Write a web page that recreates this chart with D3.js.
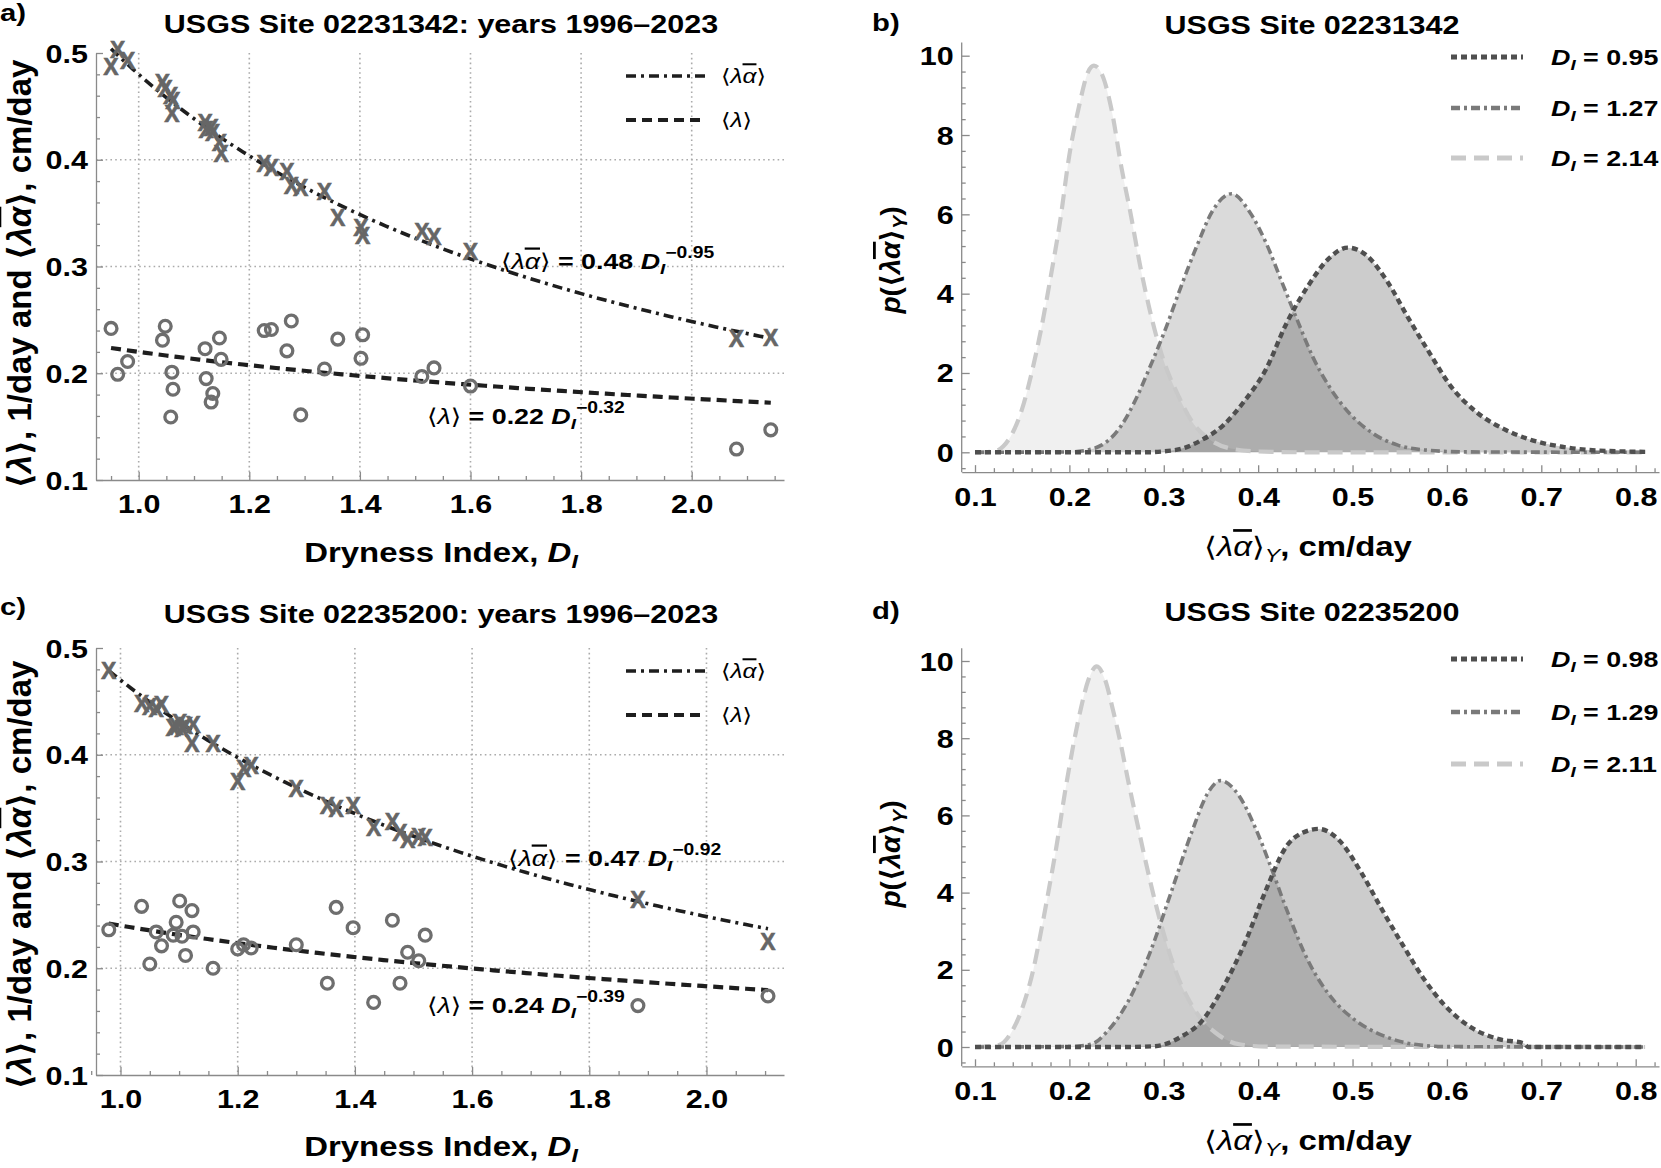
<!DOCTYPE html>
<html><head><meta charset="utf-8">
<script src="https://cdn.jsdelivr.net/npm/d3@7"></script>
<style>
body{margin:0;background:#fff}
svg{display:block}
text{font-family:"Liberation Sans",Arial,"DejaVu Sans",sans-serif;font-weight:bold;fill:#000}
</style></head>
<body><svg id="chart" width="1661" height="1168"></svg>
<script>
// ---------------- DATA ----------------
// Panel a: USGS 02231342 (dryness index, <λα>, <λ>)
const diA        = [0.950,0.962,0.980,1.043,1.048,1.058,1.060,1.062,1.120,1.122,1.131,1.134,1.146,1.149,1.227,1.240,1.268,1.276,1.293,1.336,1.360,1.402,1.405,1.512,1.534,1.600,2.081,2.143];
const lamAlphaA  = [0.487,0.503,0.493,0.472,0.467,0.460,0.443,0.455,0.435,0.428,0.430,0.425,0.416,0.406,0.396,0.393,0.389,0.376,0.374,0.370,0.346,0.336,0.329,0.333,0.328,0.314,0.232,0.233];
const lamA       = [0.242,0.199,0.211,0.231,0.244,0.159,0.201,0.185,0.223,0.195,0.173,0.181,0.233,0.213,0.240,0.241,0.221,0.249,0.161,0.204,0.232,0.214,0.236,0.197,0.205,0.188,0.129,0.147];
const fitLamAlphaA = [0.48,-0.95];
const fitLamA      = [0.22,-0.32];
// Panel c: USGS 02235200
const diC        = [0.980,1.036,1.050,1.061,1.070,1.090,1.095,1.101,1.105,1.111,1.122,1.124,1.158,1.200,1.210,1.223,1.300,1.353,1.368,1.397,1.432,1.464,1.477,1.490,1.509,1.520,1.883,2.105];
const lamAlphaC  = [0.479,0.448,0.445,0.443,0.447,0.425,0.426,0.430,0.424,0.427,0.410,0.428,0.410,0.375,0.387,0.390,0.368,0.352,0.349,0.352,0.332,0.337,0.327,0.320,0.323,0.322,0.264,0.225];
const lamC       = [0.236,0.258,0.204,0.234,0.221,0.231,0.243,0.263,0.230,0.212,0.254,0.234,0.200,0.218,0.222,0.219,0.222,0.186,0.257,0.238,0.168,0.245,0.186,0.215,0.207,0.231,0.165,0.174];
const fitLamAlphaC = [0.47,-0.92];
const fitLamC      = [0.24,-0.39];
const scatterXTicks = [1.0,1.2,1.4,1.6,1.8,2.0];
const scatterYTicks = [0.1,0.2,0.3,0.4,0.5];

// Panel b PDFs
const pdfB1x = [0.10,0.28,0.313,0.341,0.363,0.386,0.408,0.43,0.453,0.475,0.495,0.514,0.537,0.559,0.582,0.604,0.632,0.66,0.688,0.722,0.75,0.789,0.81];
const pdfB1y = [0,0,0.06,0.32,0.68,1.31,2.08,3.25,4.2,4.89,5.16,4.98,4.3,3.39,2.49,1.67,1.0,0.59,0.32,0.14,0.06,0.02,0.01];
const pdfB2x = [0.10,0.20,0.22,0.234,0.251,0.268,0.285,0.302,0.318,0.335,0.352,0.372,0.391,0.408,0.425,0.442,0.458,0.475,0.498,0.52,0.548,0.576,0.62,0.81];
const pdfB2y = [0,0.01,0.06,0.18,0.54,1.22,2.13,3.12,4.16,5.2,6.1,6.52,6.06,5.3,4.3,3.3,2.4,1.67,0.95,0.5,0.18,0.06,0.01,0];
const pdfB3x = [0.10,0.12,0.13,0.14,0.15,0.16,0.17,0.18,0.19,0.20,0.21,0.22,0.226,0.235,0.245,0.255,0.265,0.275,0.285,0.30,0.315,0.33,0.35,0.37,0.40,0.45,0.81];
const pdfB3y = [0,0.02,0.15,0.5,1.1,2.0,3.1,4.4,5.8,7.5,8.7,9.6,9.75,9.5,8.6,7.2,6.0,4.7,3.6,2.3,1.45,0.77,0.3,0.1,0.02,0,0];
const legendB = ["0.95","1.27","2.14"];
// Panel d PDFs
const pdfD1x = [0.10,0.26,0.29,0.318,0.341,0.363,0.386,0.408,0.43,0.447,0.464,0.486,0.509,0.531,0.554,0.576,0.598,0.626,0.654,0.682,0.686,0.81];
const pdfD1y = [0,0,0.02,0.26,0.69,1.55,2.7,4.05,5.2,5.55,5.65,5.35,4.53,3.57,2.61,1.75,1.07,0.5,0.21,0.09,0,0];
const pdfD2x = [0.10,0.20,0.223,0.24,0.262,0.285,0.307,0.33,0.346,0.36,0.38,0.397,0.414,0.43,0.453,0.475,0.503,0.531,0.565,0.60,0.81];
const pdfD2y = [0,0.01,0.07,0.4,1.17,2.42,3.95,5.59,6.55,6.9,6.5,5.68,4.63,3.57,2.23,1.36,0.69,0.31,0.07,0.01,0];
const pdfD3x = [0.10,0.125,0.139,0.15,0.162,0.17,0.178,0.187,0.195,0.204,0.212,0.22,0.229,0.238,0.246,0.254,0.262,0.271,0.279,0.296,0.313,0.335,0.358,0.38,0.41,0.81];
const pdfD3y = [0,0.05,0.4,1.0,2.03,3.0,4.05,5.3,6.55,7.8,8.75,9.5,9.86,9.5,8.75,7.9,6.93,5.9,5.0,3.28,1.94,0.88,0.31,0.07,0.01,0];
const legendD = ["0.98","1.29","2.11"];
const pdfXTicks = [0.1,0.2,0.3,0.4,0.5,0.6,0.7,0.8];
const pdfYTicks = [0,2,4,6,8,10];

// ---------------- HELPERS ----------------
const svg = d3.select("#chart");
const AXC = "#8a8a8a";
const SX = 1.22;   // horizontal widening of the figure's lettering

function rich(g, x, y, parts, o){
  const t = g.append("text").attr("x",0).attr("y",0).attr("font-size",o.size)
    .attr("text-anchor",o.anchor||"start");
  if(o.rotate) t.attr("transform",`translate(${x},${y}) rotate(-90)`);
  else t.attr("transform",`translate(${x},${y}) scale(${o.sx||SX},1)`);
  if(typeof parts==="string") parts=[{t:parts}];
  let shift = 0;
  parts.forEach(p=>{
    const ts = t.append("tspan").text(p.t);
    let target = 0;
    if(p.sub) target = o.size*0.24;
    if(p.sup) target = -o.size*0.48;
    const dy = target-shift; if(dy) ts.attr("dy",dy); shift = target;
    if(p.i) ts.attr("font-style","italic");
    if(p.n) ts.attr("font-weight","normal");
    if(p.s) ts.attr("font-size",p.s*o.size);
    if(p.o) ts.style("text-decoration","overline");
  });
  return t;
}
const LA = (n)=>[{t:"⟨",n:n},{t:"λ",i:1,n:n},{t:"α",i:1,o:1,n:n},{t:"⟩",n:n}];

function styleAxis(sel, fs){
  sel.select(".domain").attr("stroke",AXC).attr("stroke-width",1.3);
  sel.selectAll(".tick line").attr("stroke",AXC).attr("stroke-width",1.3);
  sel.selectAll(".tick text").attr("font-size",fs).attr("fill","#000")
     .attr("font-family",'"Liberation Sans",Arial,sans-serif').attr("font-weight","bold")
     .each(function(){
        const s=d3.select(this); const x=+s.attr("x")||0, y=+s.attr("y")||0;
        s.attr("x",0).attr("y",0).attr("transform",`translate(${x},${y}) scale(${SX},1)`);
     });
}

function drawAxes(g, x, y, xt, yt, xMinor, yMinor, xFmt, yFmt, xAxisY, yAxisX){
  const ax = g.append("g").attr("transform",`translate(0,${xAxisY})`)
    .call(d3.axisBottom(x).tickValues(xMinor).tickSizeInner(-4).tickSizeOuter(0).tickFormat(""));
  styleAxis(ax,25);
  const ax2 = g.append("g").attr("transform",`translate(0,${xAxisY})`)
    .call(d3.axisBottom(x).tickValues(xt).tickSizeInner(-8).tickSizeOuter(0).tickPadding(15).tickFormat(xFmt));
  styleAxis(ax2,25); ax2.select(".domain").remove();
  const ay = g.append("g").attr("transform",`translate(${yAxisX},0)`)
    .call(d3.axisLeft(y).tickValues(yMinor).tickSizeInner(-4).tickSizeOuter(0).tickFormat(""));
  styleAxis(ay,25);
  const ay2 = g.append("g").attr("transform",`translate(${yAxisX},0)`)
    .call(d3.axisLeft(y).tickValues(yt).tickSizeInner(-7).tickSizeOuter(0).tickPadding(8).tickFormat(yFmt));
  styleAxis(ay2,25); ay2.select(".domain").remove();
  ay2.selectAll(".tick text").attr("dy","0.36em");
}

function scatterPanel(c){
  const g = svg.append("g");
  const x = d3.scaleLinear().domain(c.xDom).range([96,784]);
  const y = d3.scaleLinear().domain([0.1,0.5]).range([c.yB,c.yT]);
  g.selectAll(".vg").data(scatterXTicks).join("line")
    .attr("x1",d=>x(d)).attr("x2",d=>x(d)).attr("y1",y(0.5)).attr("y2",y(0.1))
    .attr("stroke","#ababab").attr("stroke-width",1.6).attr("stroke-dasharray","1.6,3.2");
  g.selectAll(".hg").data(scatterYTicks.filter(v=>v>0.1&&v<0.5)).join("line")
    .attr("x1",x.range()[0]).attr("x2",x.range()[1]).attr("y1",d=>y(d)).attr("y2",d=>y(d))
    .attr("stroke","#ababab").attr("stroke-width",1.6).attr("stroke-dasharray","1.6,3.2");
  const minorX = d3.range(0,26).map(i=>+(0.95+i*0.05).toFixed(2)).filter(v=>v<=c.xDom[1]&&!scatterXTicks.some(t=>Math.abs(t-v)<1e-6));
  const minorY = d3.range(0,21).map(i=>+(0.1+i*0.02).toFixed(2)).filter(v=>!scatterYTicks.some(t=>Math.abs(t-v)<1e-6));
  drawAxes(g,x,y,scatterXTicks,scatterYTicks,minorX,minorY,d3.format(".1f"),d3.format(".1f"),c.yB,96);
  // fitted power laws (coefficients as labelled on the chart)
  const dmin = d3.min(c.di), dmax = d3.max(c.di);
  const samp = d3.range(0,61).map(i=>dmin+(dmax-dmin)*i/60);
  const line = d3.line().x(d=>x(d[0])).y(d=>y(d[1]));
  g.append("path").attr("d",line(samp.map(d=>[d,c.fitLA[0]*Math.pow(d,c.fitLA[1])])))
    .attr("fill","none").attr("stroke","#1e1e1e").attr("stroke-width",3.6).attr("stroke-dasharray","10,5,3,5");
  g.append("path").attr("d",line(samp.map(d=>[d,c.fitL[0]*Math.pow(d,c.fitL[1])])))
    .attr("fill","none").attr("stroke","#1e1e1e").attr("stroke-width",4.2).attr("stroke-dasharray","10,6");
  // markers
  g.selectAll(".xm").data(c.di.map((d,i)=>[d,c.la[i]])).join("text")
    .attr("x",d=>x(d[0])).attr("y",d=>y(d[1])).attr("dy","0.36em").attr("text-anchor","middle")
    .attr("font-size",23).style("fill","#666").attr("stroke","#666").attr("stroke-width",0.6).text("X");
  g.selectAll(".om").data(c.di.map((d,i)=>[d,c.l[i]])).join("circle")
    .attr("cx",d=>x(d[0])).attr("cy",d=>y(d[1])).attr("r",5.9)
    .attr("fill","none").attr("stroke","#6e6e6e").attr("stroke-width",3.3);
  // legend
  const oy = c.oy;
  g.append("line").attr("x1",626).attr("x2",706).attr("y1",76+oy).attr("y2",76+oy)
    .attr("stroke","#1e1e1e").attr("stroke-width",3.6).attr("stroke-dasharray","10,5,3,5");
  g.append("line").attr("x1",626).attr("x2",706).attr("y1",120+oy).attr("y2",120+oy)
    .attr("stroke","#1e1e1e").attr("stroke-width",4.2).attr("stroke-dasharray","10,6");
  rich(g,721,83+oy,LA(1),{size:20});
  rich(g,721,127+oy,[{t:"⟨",n:1},{t:"λ",i:1,n:1},{t:"⟩",n:1}],{size:20});
  // annotations
  rich(g,c.ann1[0],c.ann1[1],LA(1).concat([{t:" = "+c.fitLA[0].toFixed(2)+" "},{t:"D",i:1},{t:"I",i:1,sub:1,s:0.7},{t:"−"+Math.abs(c.fitLA[1]).toFixed(2),sup:1,s:0.72}]),{size:22});
  rich(g,c.ann2[0],c.ann2[1],[{t:"⟨",n:1},{t:"λ",i:1,n:1},{t:"⟩",n:1},{t:" = "+c.fitL[0].toFixed(2)+" "},{t:"D",i:1},{t:"I",i:1,sub:1,s:0.7},{t:"−"+Math.abs(c.fitL[1]).toFixed(2),sup:1,s:0.72}],{size:22});
  // titles / labels
  rich(svg,0,c.letY,c.letter,{size:24});
  rich(svg,441,c.titleY,c.title,{size:25,anchor:"middle"});
  rich(svg,441,c.xlabY,[{t:"Dryness Index, "},{t:"D",i:1},{t:"I",i:1,sub:1,s:0.7}],{size:27,anchor:"middle"});
  rich(svg,31,c.ylabC,[{t:"⟨"},{t:"λ",i:1},{t:"⟩, 1/day and ⟨"},{t:"λ",i:1},{t:"α",i:1,o:1},{t:"⟩, cm/day"}],{size:33,anchor:"middle",rotate:1});
}

function pdfPanel(c){
  const g = svg.append("g");
  const x = d3.scaleLinear().domain([0.0859,0.8247]).range([961.7,1659]);
  const y = d3.scaleLinear().domain([0,10]).range([c.y0,c.y10]);
  const unit = (c.y0-c.y10)/10;
  const axisY = c.y0+0.5*unit, topY = c.y10-0.33*unit;
  const minorX = d3.range(0,38).map(i=>+(0.1+i*0.02).toFixed(2)).filter(v=>v<=0.824&&!pdfXTicks.some(t=>Math.abs(t-v)<1e-6));
  const minorY = d3.range(-1,26).map(i=>+(i*0.4).toFixed(1)).filter(v=>v<=10.3&&v>=-0.45&&!pdfYTicks.some(t=>Math.abs(t-v)<1e-6));
  const gx = g.append("g").attr("transform",`translate(0,${axisY})`)
    .call(d3.axisBottom(x).tickValues(minorX).tickSizeInner(-4).tickSizeOuter(0).tickFormat(""));
  styleAxis(gx,25);
  const gx2 = g.append("g").attr("transform",`translate(0,${axisY})`)
    .call(d3.axisBottom(x).tickValues(pdfXTicks).tickSizeInner(-7).tickSizeOuter(0).tickPadding(16).tickFormat(d3.format(".1f")));
  styleAxis(gx2,25); gx2.select(".domain").remove();
  g.append("line").attr("x1",961.7).attr("x2",961.7).attr("y1",axisY).attr("y2",topY).attr("stroke",AXC).attr("stroke-width",1.3);
  const gy = g.append("g").attr("transform","translate(961.7,0)")
    .call(d3.axisLeft(y).tickValues(minorY).tickSizeInner(-4).tickSizeOuter(0).tickFormat(""));
  styleAxis(gy,25); gy.select(".domain").remove();
  const gy2 = g.append("g").attr("transform","translate(961.7,0)")
    .call(d3.axisLeft(y).tickValues(pdfYTicks).tickSizeInner(-8).tickSizeOuter(0).tickPadding(8).tickFormat(d3.format("d")));
  styleAxis(gy2,25); gy2.select(".domain").remove();
  gy2.selectAll(".tick text").attr("dy","0.36em");

  const curves = [
    {xs:c.c3x, ys:c.c3y, fill:"rgba(0,0,0,0.06)", stroke:"#c9c9c9", w:4.2, dash:"15,8"},
    {xs:c.c2x, ys:c.c2y, fill:"rgba(0,0,0,0.145)", stroke:"#7a7a7a", w:3.6, dash:"9,4,3,4"},
    {xs:c.c1x, ys:c.c1y, fill:"rgba(0,0,0,0.2)", stroke:"#4f4f4f", w:4.4, dash:"6,4"}
  ];
  const area = d3.area().x(d=>x(d[0])).y0(y(0)).y1(d=>y(d[1])).curve(d3.curveMonotoneX);
  const line = d3.line().x(d=>x(d[0])).y(d=>y(d[1])).curve(d3.curveMonotoneX);
  curves.forEach(cv=>{
    g.append("path").attr("d",area(cv.xs.map((v,i)=>[v,cv.ys[i]]))).attr("fill",cv.fill);
  });
  curves.forEach(cv=>{
    g.append("path").attr("d",line(cv.xs.map((v,i)=>[v,cv.ys[i]]))).attr("fill","none").attr("stroke",cv.stroke)
      .attr("stroke-width",cv.w).attr("stroke-dasharray",cv.dash);
  });
  const lg = [curves[2],curves[1],curves[0]];
  lg.forEach((cv,i)=>{
    const ly = c.legY[i];
    g.append("line").attr("x1",1451).attr("x2",1523).attr("y1",ly).attr("y2",ly)
      .attr("stroke",cv.stroke).attr("stroke-width",cv.w+0.8).attr("stroke-dasharray",cv.dash);
    rich(g,1551,ly+8,[{t:"D",i:1},{t:"I",i:1,sub:1,s:0.7},{t:" = "+c.leg[i]}],{size:22});
  });
  rich(svg,872,c.letY,c.letter,{size:24});
  rich(svg,1312,c.titleY,c.title,{size:25,anchor:"middle"});
  rich(svg,1308,c.xlabY,LA(1).concat([{t:"Y",i:1,sub:1,s:0.7,n:1},{t:", cm/day"}]),{size:27,anchor:"middle"});
  rich(svg,900,c.ylabC,[{t:"p",i:1},{t:"("},{t:"⟨"},{t:"λ",i:1},{t:"α",i:1,o:1},{t:"⟩"},{t:"Y",i:1,sub:1,s:0.7},{t:")"}],{size:28,anchor:"middle",rotate:1});
}

scatterPanel({letter:"a)", title:"USGS Site 02231342: years 1996–2023", xDom:[0.9228,2.1669], yB:480, yT:53, oy:0,
  di:diA, la:lamAlphaA, l:lamA, fitLA:fitLamAlphaA, fitL:fitLamA, ann1:[501,269], ann2:[427,424],
  letY:21, titleY:33, xlabY:562, ylabC:274});
scatterPanel({letter:"c)", title:"USGS Site 02235200: years 1996–2023", xDom:[0.9582,2.1323], yB:1075, yT:648, oy:595,
  di:diC, la:lamAlphaC, l:lamC, fitLA:fitLamAlphaC, fitL:fitLamC, ann1:[508,866], ann2:[427,1013],
  letY:615, titleY:623, xlabY:1156, ylabC:875});
pdfPanel({letter:"b)", title:"USGS Site 02231342", y0:452.3, y10:55.7, legY:[57,108,158],
  c1x:pdfB1x,c1y:pdfB1y,c2x:pdfB2x,c2y:pdfB2y,c3x:pdfB3x,c3y:pdfB3y, leg:legendB,
  letY:31, titleY:34, xlabY:556, ylabC:260});
pdfPanel({letter:"d)", title:"USGS Site 02235200", y0:1047, y10:661, legY:[659,712,764],
  c1x:pdfD1x,c1y:pdfD1y,c2x:pdfD2x,c2y:pdfD2y,c3x:pdfD3x,c3y:pdfD3y, leg:legendD,
  letY:619, titleY:621, xlabY:1150, ylabC:854});
</script></body></html>
